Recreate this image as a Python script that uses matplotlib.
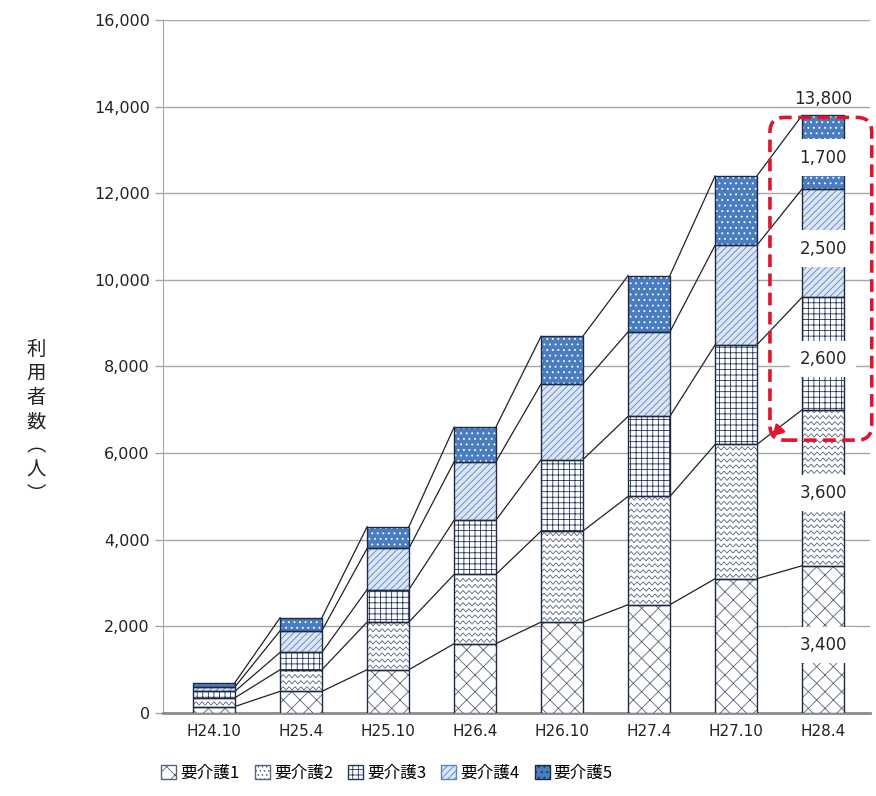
import numpy as np
import matplotlib
matplotlib.use('Agg')
import matplotlib.pyplot as plt
from matplotlib.patches import Patch, FancyBboxPatch
from matplotlib.ticker import FuncFormatter

plt.rcParams['font.family'] = ['DejaVu Sans', 'Noto Sans CJK JP']
plt.rcParams['hatch.linewidth'] = 0.6

# 利用者数（人）
categories = ['H24.10', 'H25.4', 'H25.10', 'H26.4', 'H26.10', 'H27.4', 'H27.10', 'H28.4']
care1 = [150, 500, 1000, 1600, 2100, 2500, 3100, 3400]
care2 = [200, 500, 1100, 1600, 2100, 2500, 3100, 3600]
care3 = [150, 400, 750, 1250, 1650, 1850, 2300, 2600]
care4 = [100, 500, 950, 1350, 1750, 1950, 2300, 2500]
care5 = [100, 300, 500, 800, 1100, 1300, 1600, 1700]
series_names = ['要介護1', '要介護2', '要介護3', '要介護4', '要介護5']

series = [care1, care2, care3, care4, care5]
faces = ['white', 'white', 'white', '#dbe5f3', '#4a7dbf']
hatch_colors = ['#56637a', '#56637a', '#1f3560', '#5b86c0', 'white']
hatches = ['xx', None, '+++', '/////', '...']
outline = '#1e2a44'
width = 0.48

fig = plt.figure(figsize=(8.76, 7.96), dpi=100)
ax = fig.add_axes([163 / 876, 1 - 713 / 796, (870 - 163) / 876, (713 - 20) / 796])
ax.set_xlim(-0.586, 7.54)
ax.set_ylim(0, 16000)

x = np.arange(len(categories))
bottoms = np.zeros(len(categories))
tops = []
bar_groups = []
for i, vals in enumerate(series):
    vals = np.array(vals)
    bars = ax.bar(x, vals, width, bottom=bottoms, color=faces[i], edgecolor=hatch_colors[i],
                  hatch=hatches[i], linewidth=0, zorder=3)
    ax.bar(x, vals, width, bottom=bottoms, fill=False, edgecolor=outline, linewidth=1.0, zorder=4)
    bar_groups.append(bars)
    bottoms = bottoms + vals
    tops.append(bottoms.copy())

# wavy pattern for 要介護2
row_step = 140
amp = 38
for p in bar_groups[1]:
    x0, y0, w, h = p.get_x(), p.get_y(), p.get_width(), p.get_height()
    n = 15
    xs = np.linspace(x0, x0 + w, n)
    zig = np.where(np.arange(n) % 2 == 0, -amp, amp)
    for r in np.arange(y0 + row_step / 2, y0 + h, row_step):
        ln, = ax.plot(xs, r + zig, color='#56637a', lw=0.6, zorder=3.5)
        ln.set_clip_path(p)

# series lines between bars
for lvl in tops:
    for i in range(len(categories) - 1):
        ax.plot([x[i] + width / 2, x[i + 1] - width / 2], [lvl[i], lvl[i + 1]],
                color='#222222', lw=0.9, zorder=2.5)

# data labels on last bar
last = len(categories) - 1
base = 0
for vals in series:
    v = vals[last]
    ax.annotate(f'{v:,}', (x[last], base + v / 2), xytext=(0, -4), textcoords='offset points',
                ha='center', va='center', fontsize=12, color='#262626', zorder=6,
                bbox=dict(boxstyle='square,pad=0.55', facecolor='white', edgecolor='none'))
    base += v
ax.annotate(f'{base:,}', (x[last], base), xytext=(0, 12), textcoords='offset points',
            ha='center', va='center', fontsize=12, color='#262626', zorder=6)

# axes styling
ax.set_yticks(np.arange(0, 16001, 2000))
ax.yaxis.set_major_formatter(FuncFormatter(lambda v, _: f'{v:,.0f}'))
ax.set_xticks(x)
ax.set_xticklabels(categories, fontsize=11, color='#222222')
ax.tick_params(axis='y', labelsize=11.5, labelcolor='#222222', length=6, color='#a6a6a6', width=1)
ax.tick_params(axis='x', length=0, pad=8)
ax.grid(axis='y', color='#a6a6a6', lw=1)
ax.set_axisbelow(True)
for s in ['top', 'right']:
    ax.spines[s].set_visible(False)
ax.spines['left'].set_color('#a6a6a6')
ax.spines['bottom'].set_color('#8c8c8c')
ax.spines['bottom'].set_linewidth(2)

# red dashed highlight box
fig_w, fig_h = fig.get_size_inches() * fig.dpi
ax_w = ax.get_position().width * fig_w
ax_h = ax.get_position().height * fig_h
aspect = (16000 / ax_h) / ((7.54 + 0.586) / ax_w)
bx0, bx1 = 6.39, 7.56
by0, by1 = 6300, 13750
red = '#e0142c'
box = FancyBboxPatch((bx0, by0), bx1 - bx0, by1 - by0,
                     boxstyle='round,pad=0,rounding_size=0.17', mutation_aspect=aspect,
                     fill=False, edgecolor=red, lw=2.6, linestyle=(0, (3.5, 1.8)),
                     clip_on=False, zorder=7)
ax.add_patch(box)
ax.annotate('', xy=(bx0 + 0.01, by0 + 40), xytext=(bx0 + 0.13, by0 + 300),
            arrowprops=dict(arrowstyle='-|>,head_length=0.6,head_width=0.35', color=red, lw=2),
            zorder=7, annotation_clip=False)

# y label (vertical)
fig.text(0.041, 0.47, '\n'.join('利用者数︵人︶'), ha='center', va='center', fontsize=14,
         linespacing=1.2, family=['Noto Sans CJK JP'], color='#222222')

handles = [Patch(facecolor=faces[i], edgecolor=(hatch_colors[i] if i < 4 else outline),
                 hatch=(hatches[i] if hatches[i] else '....')) for i in range(5)]
fig.legend(handles, series_names, loc='center', bbox_to_anchor=(387 / 876, 1 - 773 / 796),
           ncol=5, frameon=False, fontsize=12, handlelength=0.9, handleheight=0.9,
           handletextpad=0.25, columnspacing=0.9, prop={'family': ['Noto Sans CJK JP'], 'size': 12})

fig.savefig('out.png', dpi=100)
